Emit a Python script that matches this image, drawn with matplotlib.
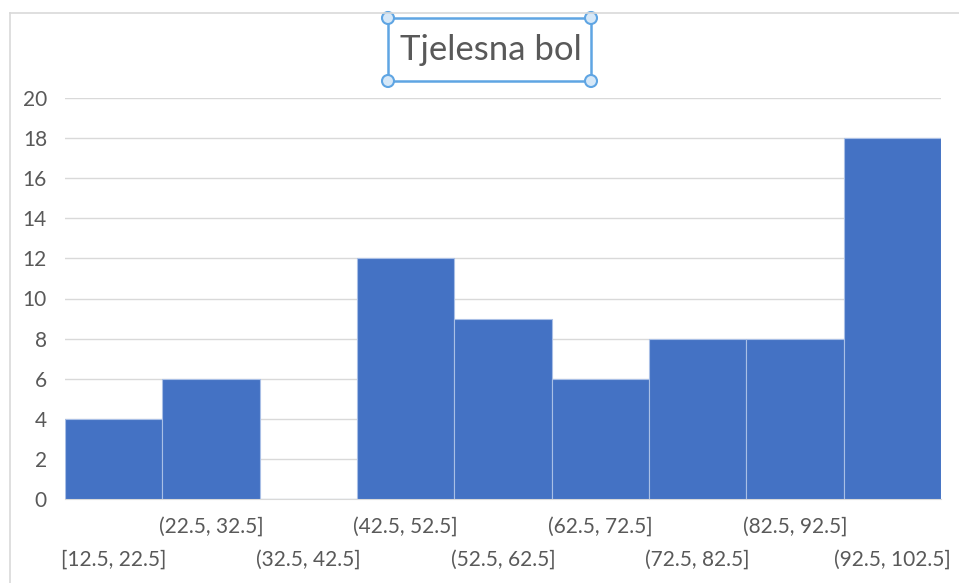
import matplotlib
matplotlib.use("Agg")
import matplotlib.pyplot as plt
from matplotlib.lines import Line2D
from matplotlib.patches import Rectangle, Circle

bins = ["[12.5, 22.5]", "(22.5, 32.5]", "(32.5, 42.5]", "(42.5, 52.5]", "(52.5, 62.5]",
        "(62.5, 72.5]", "(72.5, 82.5]", "(82.5, 92.5]", "(92.5, 102.5]"]
counts = [4, 6, 0, 12, 9, 6, 8, 8, 18]
yticks = list(range(0, 21, 2))
title = "Tjelesna bol"

plt.rcParams['font.family'] = ['Lato', 'DejaVu Sans']
W, H = 959, 583
fig = plt.figure(figsize=(W / 100, H / 100), dpi=100)
fig.patch.set_facecolor("white")

ax = fig.add_axes([65 / W, (H - 499) / H, (941 - 65) / W, (499 - 98) / H])
x = list(range(len(counts)))
ax.bar(x, counts, width=1.0, color="#4472C4", edgecolor="#A9BFE6", linewidth=0.8, zorder=3)
ax.set_xlim(-0.5, len(counts) - 0.5)
ax.set_ylim(0, 20)
ax.set_yticks(yticks)
ax.yaxis.grid(True, color="#D9D9D9", linewidth=1, zorder=0)
for s in ["top", "right", "left"]:
    ax.spines[s].set_visible(False)
ax.spines["bottom"].set_color("#D9D9D9")
ax.tick_params(axis="y", length=0, labelsize=15, labelcolor="#595959", pad=13)
ax.tick_params(axis="x", length=0)
ax.set_xticks(x)
ax.set_xticklabels([])
for i, lab in enumerate(bins):
    yoff = -0.07 if i % 2 == 1 else -0.152
    ax.text(i, yoff, lab, transform=ax.get_xaxis_transform(), ha="center", va="center",
            fontsize=15, color="#595959")

# chart border
fig.add_artist(Line2D([10 / W, 10 / W], [0, 1 - 13 / H], color="#D9D9D9", lw=1.2))
fig.add_artist(Line2D([10 / W, 1], [1 - 13 / H, 1 - 13 / H], color="#D9D9D9", lw=1.2))

# title with selection box
fig.text(491 / W, 1 - 50 / H, title, ha="center", va="center",
         fontsize=25, color="#595959")
x0, x1, y0, y1 = 388 / W, 591 / W, 1 - 81 / H, 1 - 18 / H
fig.add_artist(Rectangle((x0, y0), x1 - x0, y1 - y0, fill=False, edgecolor="#5FA5E3",
                         lw=1.8, transform=fig.transFigure))
for cx, cy in [(x0, y0), (x0, y1), (x1, y0), (x1, y1)]:
    fig.add_artist(Circle((cx * W, cy * H), 6, facecolor="#D6E8F8", edgecolor="#5FA5E3",
                          lw=1.5, transform=None))

fig.savefig("out.png", dpi=100)
